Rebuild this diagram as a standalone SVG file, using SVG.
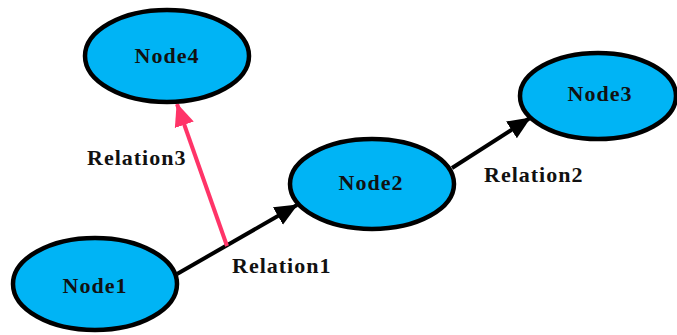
<svg xmlns="http://www.w3.org/2000/svg" width="677" height="335" viewBox="0 0 677 335">
  <style>
    .node ellipse { fill: #00b4f5; stroke: #000; stroke-width: 4.5; }
    .lbl { font-family: "Liberation Serif", "Times New Roman", serif; font-weight: bold; font-size: 22px; letter-spacing: 1px; fill: #111; }
    .node .lbl { text-anchor: middle; }
    .edge { fill: none; stroke-width: 4; }
  </style>
  <defs>
    <marker id="arrowBlack" markerUnits="userSpaceOnUse" markerWidth="26" markerHeight="22" refX="22" refY="11" orient="auto">
      <path d="M0,1 L23,11 L0,21 Z" fill="#000"/>
    </marker>
    <marker id="arrowPink" markerUnits="userSpaceOnUse" markerWidth="26" markerHeight="22" refX="22" refY="11" orient="auto">
      <path d="M0,1 L23,11 L0,21 Z" fill="#ff3468"/>
    </marker>
  </defs>
  <rect width="677" height="335" fill="#fff"/>

  <g id="connectors">
    <line class="edge" x1="177" y1="274" x2="297" y2="205" stroke="#000" marker-end="url(#arrowBlack)"/>
    <line class="edge" x1="452" y1="168" x2="530" y2="118" stroke="#000" marker-end="url(#arrowBlack)"/>
    <line class="edge" x1="227" y1="246" x2="177" y2="104" stroke="#ff3468" stroke-width="5" marker-end="url(#arrowPink)"/>
    <text class="lbl" x="232" y="273">Relation1</text>
    <text class="lbl" x="484" y="182">Relation2</text>
    <text class="lbl" x="87" y="165">Relation3</text>
  </g>

  <g id="node1" class="node">
    <ellipse cx="95" cy="284" rx="82" ry="46"/>
    <text class="lbl" x="95" y="293">Node1</text>
  </g>
  <g id="node2" class="node">
    <ellipse cx="372" cy="184" rx="82" ry="45"/>
    <text class="lbl" x="371" y="190">Node2</text>
  </g>
  <g id="node3" class="node">
    <ellipse cx="598" cy="96" rx="78" ry="43"/>
    <text class="lbl" x="600" y="101">Node3</text>
  </g>
  <g id="node4" class="node">
    <ellipse cx="167" cy="56" rx="82" ry="46"/>
    <text class="lbl" x="167" y="63">Node4</text>
  </g>
</svg>
